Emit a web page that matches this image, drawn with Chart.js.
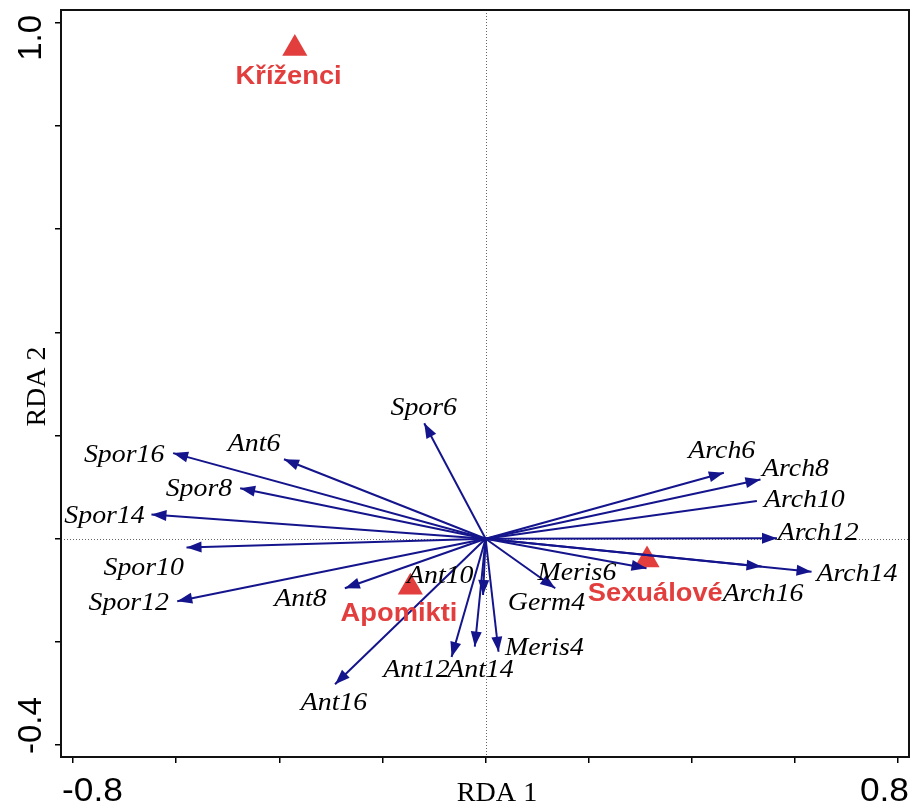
<!DOCTYPE html>
<html><head><meta charset="utf-8">
<script src="https://cdn.jsdelivr.net/npm/chart.js@4.4.0/dist/chart.umd.min.js"></script>
<style>html,body{margin:0;padding:0;background:#fff}canvas{display:block}</style>
</head><body>
<canvas id="c" width="913" height="807"></canvas>
<script>
// Explanatory variables: arrow tips in RDA 1 / RDA 2 units
const varNames = ['Spor6','Spor8','Spor10','Spor12','Spor14','Spor16',
  'Ant6','Ant8','Ant10','Ant12','Ant14','Ant16',
  'Germ4','Meris4','Meris6',
  'Arch6','Arch8','Arch10','Arch12','Arch14','Arch16'];
const varRDA1 = [-0.119,-0.476,-0.580,-0.598,-0.648,-0.606,
  -0.391,-0.273,-0.005,-0.066,-0.021,-0.292,
  0.135,0.025,0.312,
  0.462,0.533,0.526,0.565,0.632,0.535];
const varRDA2 = [0.224,0.098,-0.017,-0.121,0.047,0.166,
  0.154,-0.096,-0.109,-0.229,-0.209,-0.282,
  -0.096,-0.219,-0.057,
  0.128,0.115,0.073,0.001,-0.064,-0.054];
// Where each variable name sits (centre of the capitals), axis units
const varLabelX = [-0.120,-0.556,-0.663,-0.692,-0.739,-0.701,
  -0.449,-0.359,-0.088,-0.134,-0.010,-0.294,
  0.118,0.114,0.177,
  0.458,0.601,0.618,0.645,0.720,0.538];
const varLabelY = [0.257,0.100,-0.053,-0.121,0.048,0.166,
  0.186,-0.113,-0.070,-0.251,-0.251,-0.316,
  -0.121,-0.208,-0.063,
  0.174,0.139,0.078,0.015,-0.065,-0.104];
// Arrows drawn without a head
const noHead = ['Arch10'];

// Group centroids
const groupNames = ['Kříženci','Apomikti','Sexuálové'];
const groupRDA1 = [-0.370,-0.146,0.313];
const groupRDA2 = [0.950,-0.094,-0.041];
const groupLabelX = [-0.382,-0.168,0.329];
const groupLabelY = [0.899,-0.141,-0.103];

// Axes
const xRange = [-0.8234, 0.821];
const yRange = [-0.423, 1.0248];
const xTicks = [-0.8,-0.6,-0.4,-0.2,0,0.2,0.4,0.6,0.8];
const yTicks = [-0.4,-0.2,0,0.2,0.4,0.6,0.8,1.0];
const xTickLabels = ['-0.8','0.8'];
const yTickLabels = ['-0.4','1.0'];
const xTitle = 'RDA 1';
const yTitle = 'RDA 2';

const NAVY = '#14148c';
const RED = '#e23e3e';
const SX = 1.07; // horizontal text stretch

function stretchedText(ctx, txt, x, y, font, color, align, sx) {
  ctx.save();
  ctx.translate(x, y);
  ctx.scale(sx, 1);
  ctx.font = font;
  ctx.fillStyle = color;
  ctx.textAlign = align;
  ctx.textBaseline = 'alphabetic';
  ctx.fillText(txt, 0, 0);
  ctx.restore();
}

const datasets = [];
varNames.forEach((n, i) => {
  datasets.push({
    label: n,
    data: [{x: 0, y: 0}, {x: varRDA1[i], y: varRDA2[i]}],
    showLine: true,
    borderColor: NAVY,
    borderWidth: 2,
    borderCapStyle: 'butt',
    pointRadius: 0,
    fill: false,
    order: 0
  });
});
datasets.push({
  label: 'groups',
  data: groupNames.map((n, i) => ({x: groupRDA1[i], y: groupRDA2[i]})),
  pointStyle: 'triangle',
  pointRadius: 14.5,
  pointBackgroundColor: RED,
  pointBorderColor: RED,
  pointBorderWidth: 0,
  showLine: false,
  order: 1
});

const ordPlugin = {
  id: 'ordination',
  beforeDatasetsDraw(chart) {
    const {ctx, chartArea: a, scales: {x, y}} = chart;
    ctx.save();
    ctx.strokeStyle = '#666';
    ctx.lineWidth = 1;
    ctx.setLineDash([1, 2]);
    const x0 = Math.round(x.getPixelForValue(0)) + 0.5;
    const y0 = Math.round(y.getPixelForValue(0)) + 0.5;
    ctx.beginPath();
    ctx.moveTo(x0, a.top); ctx.lineTo(x0, a.bottom);
    ctx.moveTo(a.left, y0); ctx.lineTo(a.right, y0);
    ctx.stroke();
    ctx.restore();
  },
  afterDatasetsDraw(chart) {
    const {ctx, chartArea: a, scales: {x, y}} = chart;
    // arrow heads
    ctx.save();
    ctx.fillStyle = NAVY;
    varNames.forEach((n, i) => {
      if (noHead.includes(n)) return;
      const pts = chart.getDatasetMeta(i).data;
      const ox = pts[0].x, oy = pts[0].y, tx = pts[1].x, ty = pts[1].y;
      const dx = tx - ox, dy = ty - oy, len = Math.hypot(dx, dy);
      const ux = dx / len, uy = dy / len;
      const L = 15, W = 5.5;
      ctx.beginPath();
      ctx.moveTo(tx, ty);
      ctx.lineTo(tx - L * ux - W * uy, ty - L * uy + W * ux);
      ctx.lineTo(tx - L * ux + W * uy, ty - L * uy - W * ux);
      ctx.closePath();
      ctx.fill();
    });
    ctx.restore();
    // variable names
    varNames.forEach((n, i) => {
      const px = x.getPixelForValue(varLabelX[i]);
      const py = y.getPixelForValue(varLabelY[i]) + 8.6;
      stretchedText(ctx, n, px, py, 'italic 26px "Liberation Serif"', '#000', 'center', SX);
    });
    // group names
    groupNames.forEach((n, i) => {
      const px = x.getPixelForValue(groupLabelX[i]);
      const py = y.getPixelForValue(groupLabelY[i]) + 9.3;
      stretchedText(ctx, n, px, py, 'bold 25.5px "Liberation Sans"', RED, 'center', SX);
    });
    // frame
    ctx.save();
    ctx.strokeStyle = '#111';
    ctx.lineWidth = 2;
    ctx.strokeRect(a.left, a.top, a.right - a.left, a.bottom - a.top);
    ctx.restore();
  },
  afterDraw(chart) {
    const {ctx, chartArea: a} = chart;
    const tickFont = '33px "Liberation Sans"';
    // x tick labels, kept inside the frame width
    stretchedText(ctx, xTickLabels[0], a.left + 1, a.bottom + 44, tickFont, '#000', 'left', SX);
    stretchedText(ctx, xTickLabels[1], a.right, a.bottom + 44, tickFont, '#000', 'right', SX);
    // y tick labels, rotated
    ctx.save();
    ctx.font = tickFont;
    ctx.fillStyle = '#000';
    ctx.textBaseline = 'alphabetic';
    ctx.translate(a.left - 20, a.bottom - 3);
    ctx.rotate(-Math.PI / 2);
    ctx.textAlign = 'left';
    ctx.fillText(yTickLabels[0], 0, 0);
    ctx.restore();
    ctx.save();
    ctx.font = tickFont;
    ctx.fillStyle = '#000';
    ctx.translate(a.left - 20, a.top + 5);
    ctx.rotate(-Math.PI / 2);
    ctx.textAlign = 'right';
    ctx.fillText(yTickLabels[1], 0, 0);
    ctx.restore();
    // axis titles
    stretchedText(ctx, xTitle, (a.left + a.right) / 2 + 12, a.bottom + 44, '27px "Liberation Serif"', '#000', 'center', 1.04);
    ctx.save();
    ctx.font = '28px "Liberation Serif"';
    ctx.fillStyle = '#000';
    ctx.textAlign = 'center';
    ctx.translate(a.left - 16, (a.top + a.bottom) / 2 + 3);
    ctx.rotate(-Math.PI / 2);
    ctx.fillText(yTitle, 0, 0);
    ctx.restore();
  }
};

function noPad(s) {
  s.paddingLeft = 0; s.paddingRight = 0; s.paddingTop = 0; s.paddingBottom = 0;
}

const axisCommon = {
  type: 'linear',
  grid: {display: true, drawOnChartArea: false, drawTicks: true, tickLength: 6, color: '#000', lineWidth: 1.5},
  border: {display: true, color: '#111', width: 2},
  ticks: {callback: () => '', padding: 0}
};

new Chart(document.getElementById('c'), {
  type: 'scatter',
  data: {datasets},
  options: {
    responsive: false,
    animation: false,
    devicePixelRatio: 1,
    layout: {autoPadding: false, padding: {top: 10, right: 4, left: 0, bottom: 0}},
    plugins: {legend: {display: false}, tooltip: {enabled: false}},
    scales: {
      x: Object.assign({}, axisCommon, {
        position: 'bottom', min: xRange[0], max: xRange[1],
        afterBuildTicks: s => { s.ticks = xTicks.map(v => ({value: v})); },
        afterFit: s => { s.height = 50; noPad(s); }
      }),
      y: Object.assign({}, axisCommon, {
        position: 'left', min: yRange[0], max: yRange[1],
        afterBuildTicks: s => { s.ticks = yTicks.map(v => ({value: v})); },
        afterFit: s => { s.width = 61; noPad(s); }
      })
    }
  },
  plugins: [ordPlugin]
});
</script>
</body></html>
